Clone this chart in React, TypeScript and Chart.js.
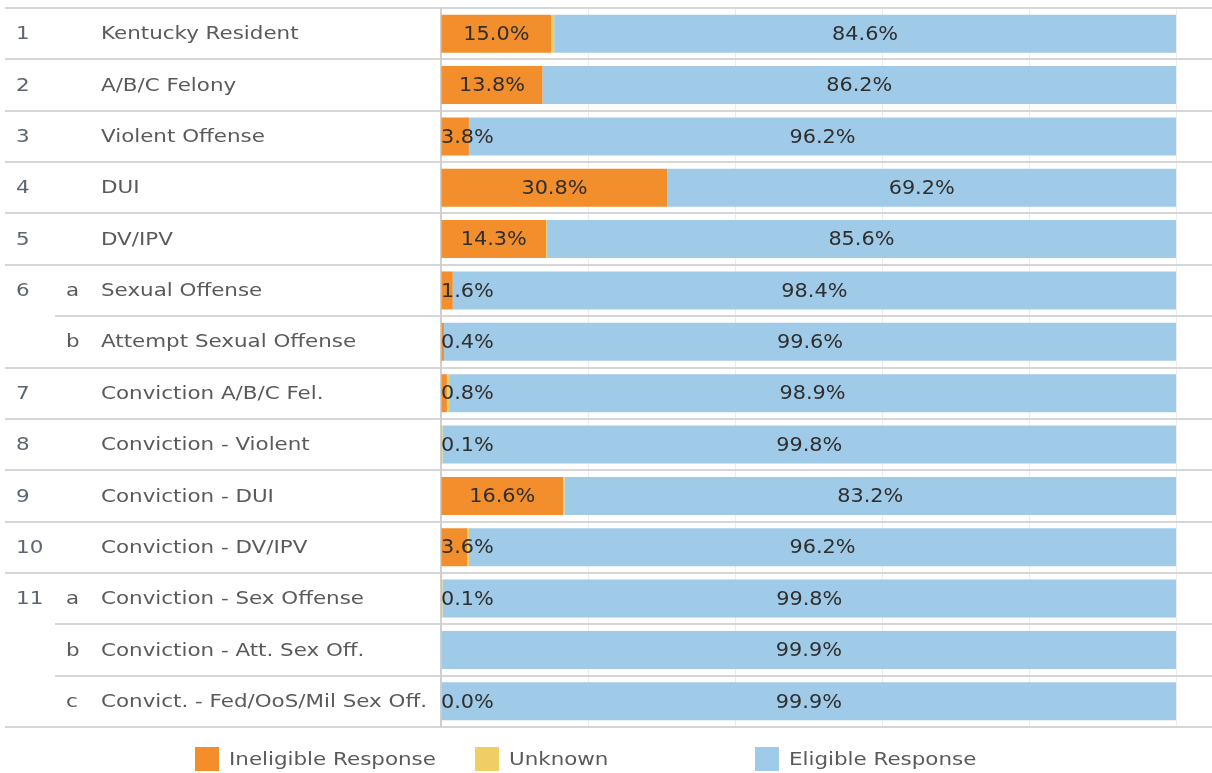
import React, { useEffect, useRef } from "react";
import { Chart, registerables } from "chart.js";

Chart.register(...registerables);

const categories = [
  "Kentucky Resident",
  "A/B/C Felony",
  "Violent Offense",
  "DUI",
  "DV/IPV",
  "Sexual Offense",
  "Attempt Sexual Offense",
  "Conviction A/B/C Fel.",
  "Conviction - Violent",
  "Conviction - DUI",
  "Conviction - DV/IPV",
  "Conviction - Sex Offense",
  "Conviction - Att. Sex Off.",
  "Convict. - Fed/OoS/Mil Sex Off.",
];
const rowNumbers = ["1", "2", "3", "4", "5", "6", "", "7", "8", "9", "10", "11", "", ""];
const rowLetters = ["", "", "", "", "", "a", "b", "", "", "", "", "a", "b", "c"];

const ineligible: (number | null)[] = [15.0, 13.8, 3.8, 30.8, 14.3, 1.6, 0.4, 0.8, 0.1, 16.6, 3.6, 0.1, null, 0.0];
const unknown: (number | null)[] = [0.4, 0, 0, 0, 0.1, 0, 0, 0.3, 0.1, 0.2, 0.2, 0.1, 0.1, 0.1];
const eligible: (number | null)[] = [84.6, 86.2, 96.2, 69.2, 85.6, 98.4, 99.6, 98.9, 99.8, 83.2, 96.2, 99.8, 99.9, 99.9];

const seriesNames = ["Ineligible Response", "Unknown", "Eligible Response"];
const seriesColors = ["#F28E2B", "#F1CE63", "#A0CBE8"];
const labeledSeries = [0, 2];

const FONT = "'DejaVu Sans', sans-serif";
const LABEL_SX = 1.19;
const VALUE_SX = 1.04;

function drawText(ctx: CanvasRenderingContext2D, text: string, x: number, y: number, align: CanvasTextAlign, sx: number) {
  ctx.save();
  ctx.translate(x, y);
  ctx.scale(sx, 1);
  ctx.textAlign = align;
  ctx.textBaseline = "middle";
  ctx.fillText(text, 0, 0);
  ctx.restore();
}

const tablePlugin = {
  id: "tablePlugin",
  beforeDatasetsDraw(chart: any) {
    const { ctx, chartArea, scales } = chart;
    const y = scales.y;
    const n = categories.length;
    const step = n > 1 ? y.getPixelForValue(1) - y.getPixelForValue(0) : 0;
    ctx.save();
    ctx.strokeStyle = "#d6d6d6";
    ctx.lineWidth = 2;
    for (let i = 0; i <= n; i++) {
      const py = Math.round(y.getPixelForValue(i) - step / 2);
      const startX = i > 0 && i < n && rowNumbers[i] === "" ? 55 : 5;
      ctx.beginPath();
      ctx.moveTo(startX, py);
      ctx.lineTo(chart.width, py);
      ctx.stroke();
    }
    ctx.strokeStyle = "#cfcfcf";
    ctx.lineWidth = 2;
    ctx.beginPath();
    ctx.moveTo(chartArea.left, Math.round(y.getPixelForValue(0) - step / 2));
    ctx.lineTo(chartArea.left, Math.round(y.getPixelForValue(n - 1) + step / 2));
    ctx.stroke();
    ctx.restore();
  },
  afterDatasetsDraw(chart: any) {
    const { ctx, chartArea, scales } = chart;
    const y = scales.y;
    ctx.save();
    // left table text
    ctx.font = `18px ${FONT}`;
    for (let i = 0; i < categories.length; i++) {
      const py = y.getPixelForValue(i) + 1;
      ctx.fillStyle = "#5d6570";
      if (rowNumbers[i]) drawText(ctx, rowNumbers[i], 16, py, "left", LABEL_SX);
      ctx.fillStyle = "#5a5a5a";
      if (rowLetters[i]) drawText(ctx, rowLetters[i], 66, py, "left", LABEL_SX);
      drawText(ctx, categories[i], 101, py, "left", LABEL_SX);
    }
    // value labels
    ctx.font = `20px ${FONT}`;
    ctx.fillStyle = "#2f2f2f";
    for (const di of labeledSeries) {
      const meta = chart.getDatasetMeta(di);
      const data = chart.data.datasets[di].data;
      meta.data.forEach((bar: any, i: number) => {
        const v = data[i];
        if (v === null || v === undefined) return;
        const txt = `${Number(v).toFixed(1)}%`;
        const w = ctx.measureText(txt).width * VALUE_SX;
        const center = (bar.x + bar.base) / 2;
        const cx = Math.max(center, chartArea.left + w / 2);
        drawText(ctx, txt, cx, bar.y + 1, "center", VALUE_SX);
      });
    }
    // legend
    ctx.font = `18px ${FONT}`;
    const legendY = 759;
    chart.data.datasets.forEach((ds: any, i: number) => {
      const x0 = 195 + i * 280;
      ctx.fillStyle = ds.backgroundColor;
      ctx.fillRect(x0, legendY - 12, 24, 24);
      ctx.fillStyle = "#5a5a5a";
      drawText(ctx, ds.label, x0 + 34, legendY + 1, "left", LABEL_SX);
    });
    ctx.restore();
  },
};

export default function App() {
  const canvasRef = useRef<HTMLCanvasElement | null>(null);

  useEffect(() => {
    document.body.style.margin = "0";
    document.body.style.overflow = "hidden";
    const canvas = canvasRef.current;
    if (!canvas) return;
    const seriesData = [ineligible, unknown, eligible];
    const chart = new Chart(canvas, {
      type: "bar",
      data: {
        labels: categories,
        datasets: seriesData.map((d, i) => ({
          label: seriesNames[i],
          data: d,
          backgroundColor: seriesColors[i],
          borderWidth: 0,
          barPercentage: 0.74,
          categoryPercentage: 1,
        })),
      },
      options: {
        indexAxis: "y",
        responsive: false,
        animation: false,
        devicePixelRatio: 1,
        layout: { padding: { left: 441, right: 36, top: 8, bottom: 46 } },
        plugins: { legend: { display: false }, tooltip: { enabled: false } },
        scales: {
          x: {
            stacked: true,
            min: 0,
            max: 100,
            ticks: { display: false, stepSize: 20 },
            grid: { color: "#ececec", lineWidth: 1, drawTicks: false, tickLength: 0 },
            border: { display: false },
          },
          y: {
            stacked: true,
            display: false,
          },
        },
      },
      plugins: [tablePlugin],
    } as any);
    return () => chart.destroy();
  }, []);

  return (
    <div style={{ position: "absolute", left: 0, top: 0, width: 1212, height: 773, background: "#fff" }}>
      <canvas ref={canvasRef} width={1212} height={773} style={{ width: 1212, height: 773, display: "block" }} />
    </div>
  );
}
